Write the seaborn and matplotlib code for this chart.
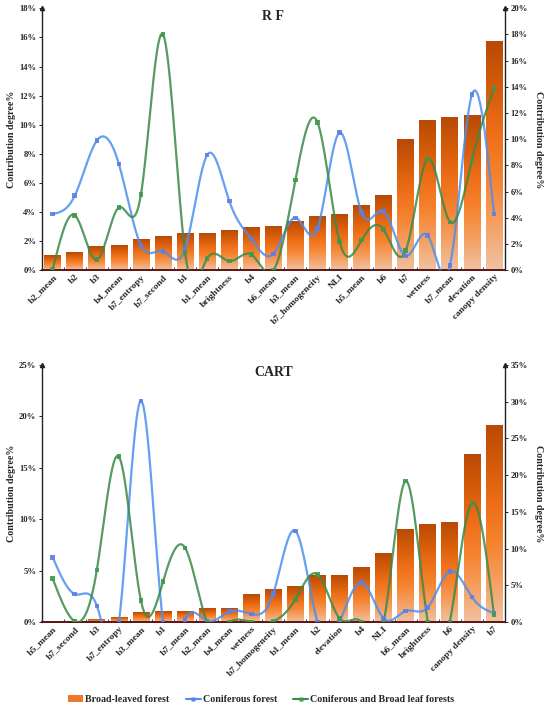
import numpy as np
import pandas as pd
import matplotlib
matplotlib.use("Agg")
import matplotlib.pyplot as plt
from matplotlib.colors import LinearSegmentedColormap
from matplotlib.patches import Patch
from matplotlib.lines import Line2D
from matplotlib.ticker import FuncFormatter, FixedLocator
import seaborn as sns

# ---------------- data ----------------
cats_rf = ['b2_mean', 'b2', 'b3', 'b4_mean', 'b7_entropy', 'b7_second', 'b1', 'b1_mean',
           'brightness', 'b4', 'b6_mean', 'b3_mean', 'b7_homogeneity', 'NLI', 'b5_mean',
           'b6', 'b7', 'wetness', 'b7_mean', 'elevation', 'canopy density']
broad_rf = [1.0, 1.2, 1.6, 1.7, 2.1, 2.3, 2.5, 2.5, 2.7, 2.9, 3.0, 3.3, 3.7, 3.8, 4.4,
            5.1, 9.0, 10.3, 10.5, 10.6, 15.7]
conif_rf = [4.3, 5.7, 9.9, 8.1, 1.9, 1.45, 1.65, 8.8, 5.3, 2.4, 1.25, 4.0, 3.2, 10.5, 4.4,
            4.5, 1.1, 2.65, 0.35, 13.4, 4.3]
mixed_rf = [0.05, 4.2, 0.8, 4.8, 5.8, 18.0, 1.35, 0.9, 0.7, 1.2, 0.0, 6.9, 11.3, 2.2, 2.3,
            3.1, 1.5, 8.5, 3.7, 8.4, 13.9]

cats_cart = ['b5_mean', 'b7_second', 'b3', 'b7_entropy', 'b3_mean', 'b1', 'b7_mean', 'b2_mean',
             'b4_mean', 'wetness', 'b7_homogeneity', 'b1_mean', 'b2', 'elevation', 'b4', 'NLI',
             'b6_mean', 'brightness', 'b6', 'canopy density', 'b7']
broad_cart = [0.0, 0.0, 0.2, 0.4, 0.9, 1.0, 1.0, 1.3, 1.3, 2.7, 3.2, 3.5, 4.5, 4.5, 5.3, 6.7,
              9.0, 9.5, 9.7, 16.3, 19.1]
conif_cart = [8.8, 3.8, 2.2, 0.0, 30.1, 0.0, 0.35, 0.15, 1.4, 1.1, 3.9, 12.4, 0.0, 0.0, 5.4,
              0.5, 1.5, 2.0, 6.9, 3.4, 1.2]
mixed_cart = [5.9, 0.1, 7.1, 22.5, 2.9, 5.5, 10.1, 0.0, 0.0, 0.0, 0.1, 3.1, 6.5, 0.5, 0.0,
              0.0, 19.2, 0.0, 0.0, 16.2, 1.0]

legend_labels = ['Broad-leaved forest', 'Coniferous forest', 'Coniferous and Broad leaf forests']

# ---------------- style ----------------
sns.set_theme(style="white")
plt.rcParams['font.family'] = ['Liberation Serif', 'DejaVu Serif']
plt.rcParams['font.weight'] = 'bold'
plt.rcParams['axes.labelweight'] = 'bold'

BLUE = '#4a8ff0'
BLUE_M = '#5f7ee6'
GREEN = '#3a8a48'
GREEN_M = '#3e9a4c'
SPINE = '#222222'
BOTTOM = '#5a1414'

bar_cmap = LinearSegmentedColormap.from_list(
    'bar', ['#f0c2a2', '#f5a063', '#f6832f', '#ee6e18', '#d45b0a', '#b84a05'])


def natural_spline(y, n_per=30):
    y = np.asarray(y, float)
    n = len(y)
    A = np.zeros((n, n))
    b = np.zeros(n)
    A[0, 0] = 1
    A[-1, -1] = 1
    for i in range(1, n - 1):
        A[i, i - 1] = 1
        A[i, i] = 4
        A[i, i + 1] = 1
        b[i] = 6 * (y[i + 1] - 2 * y[i] + y[i - 1])
    M = np.linalg.solve(A, b)
    xs, ys = [], []
    for i in range(n - 1):
        t = np.linspace(0, 1, n_per, endpoint=False)
        s = ((1 - t) * y[i] + t * y[i + 1]
             + ((1 - t) ** 3 - (1 - t)) * M[i] / 6 + (t ** 3 - t) * M[i + 1] / 6)
        xs.append(i + t)
        ys.append(s)
    xs.append(np.array([n - 1.0]))
    ys.append(np.array([y[-1]]))
    return np.concatenate(xs), np.concatenate(ys)


def panel(ax, cats, broad, conif, mixed, lmax, lstep, rmax, rstep, title):
    df = pd.DataFrame({'cat': cats, 'val': broad})
    sns.barplot(data=df, x='cat', y='val', ax=ax, color='#f08030', width=0.76,
                saturation=1, edgecolor='none', zorder=2)
    grad = np.linspace(0, 1, 256).reshape(-1, 1)
    for p in list(ax.patches):
        x0, w, h = p.get_x(), p.get_width(), p.get_height()
        if h <= 0:
            continue
        ax.imshow(grad, extent=[x0, x0 + w, 0, h], origin='lower', aspect='auto',
                  cmap=bar_cmap, zorder=2.5, interpolation='bicubic')
        p.set_facecolor('none')
    ax.set_xlim(-0.5, len(cats) - 0.5)
    ax.set_ylim(0, lmax)
    ax.set_yticks(np.arange(0, lmax + 0.01, lstep))
    ax.yaxis.set_major_formatter(FuncFormatter(lambda v, _: f'{v:.0f}%'))
    ax.set_xlabel('')
    ax.set_ylabel('Contribution degree%', fontsize=7.2, fontweight='bold', labelpad=2)
    ax.set_xticks(range(len(cats)))
    ax.set_xticklabels(cats, rotation=45, ha='right', rotation_mode='anchor',
                       fontsize=6.8, fontweight='bold')
    ax.tick_params(axis='x', length=0, pad=2)
    ax.xaxis.set_minor_locator(FixedLocator(np.arange(0.5, len(cats) - 1, 1)))
    ax.tick_params(axis='x', which='minor', direction='in', length=2.5, width=0.6,
                   color=SPINE, bottom=True)
    ax.tick_params(axis='y', length=2.5, width=0.7, pad=1.5, labelsize=6.2, color=SPINE,
                   left=True, direction='out')
    for lab in ax.get_yticklabels():
        lab.set_fontweight('bold')

    ax2 = ax.twinx()
    for vals, lc, mc in ((conif, BLUE, BLUE_M), (mixed, GREEN, GREEN_M)):
        xs, ys = natural_spline(vals)
        ax2.plot(xs, ys, color=lc, lw=1.6, alpha=0.85, zorder=3, solid_capstyle='round')
        sns.scatterplot(x=np.arange(len(vals)), y=vals, ax=ax2, marker='s', s=11,
                        color=mc, edgecolor='none', alpha=0.9, zorder=4, legend=False)
    ax2.set_ylim(0, rmax)
    ax2.set_xlim(-0.5, len(cats) - 0.5)
    ax2.set_yticks(np.arange(0, rmax + 0.01, rstep))
    ax2.yaxis.set_major_formatter(FuncFormatter(lambda v, _: f'{v:.0f}%'))
    ax2.set_ylabel('Contribution degree%', fontsize=7.2, fontweight='bold', rotation=270,
                   labelpad=11)
    ax2.tick_params(axis='y', length=2.5, width=0.7, pad=1.5, labelsize=6.2, color=SPINE,
                    right=True, direction='out')
    for lab in ax2.get_yticklabels():
        lab.set_fontweight('bold')

    for a in (ax, ax2):
        a.spines['top'].set_visible(False)
        a.spines['left'].set_color(SPINE)
        a.spines['right'].set_color(SPINE)
        a.spines['left'].set_linewidth(1.0)
        a.spines['right'].set_linewidth(1.0)
        a.spines['bottom'].set_color(BOTTOM)
        a.spines['bottom'].set_linewidth(1.2)
    ax.spines['right'].set_visible(False)
    ax2.spines['left'].set_visible(False)
    ax.grid(False)
    ax2.grid(False)
    # small arrow heads at the top of the vertical axes
    ax.plot([0], [1], marker='^', ms=3, color=SPINE, transform=ax.transAxes, clip_on=False)
    ax.plot([1], [1], marker='^', ms=3, color=SPINE, transform=ax.transAxes, clip_on=False)
    ax.text(0.5, 0.995, title, transform=ax.transAxes, ha='center', va='top',
            fontsize=10, fontweight='bold')
    return ax2


fig = plt.figure(figsize=(5.5, 7.09), dpi=100)
ax_top = fig.add_axes([0.0758, 0.6188, 0.8424, 0.3695])
ax_bot = fig.add_axes([0.0758, 0.1227, 0.8424, 0.3625])

panel(ax_top, cats_rf, broad_rf, conif_rf, mixed_rf, 18, 2, 20, 2, 'R F')
panel(ax_bot, cats_cart, broad_cart, conif_cart, mixed_cart, 25, 5, 35, 5, 'CART')

handles = [Patch(facecolor='#ea7a2c', edgecolor='none'),
           Line2D([0], [0], color=BLUE, lw=1.5, marker='s', ms=3, markerfacecolor=BLUE_M,
                  markeredgecolor='none'),
           Line2D([0], [0], color=GREEN, lw=1.5, marker='s', ms=3, markerfacecolor=GREEN_M,
                  markeredgecolor='none')]
fig.legend(handles, legend_labels, loc='center', bbox_to_anchor=(0.475, 0.0127), ncol=3,
           frameon=False, handlelength=1.5, handleheight=0.7,
           handletextpad=0.2, columnspacing=1.6, prop={'weight': 'bold', 'size': 7.2})

fig.savefig('out.png', dpi=100, facecolor='white')
